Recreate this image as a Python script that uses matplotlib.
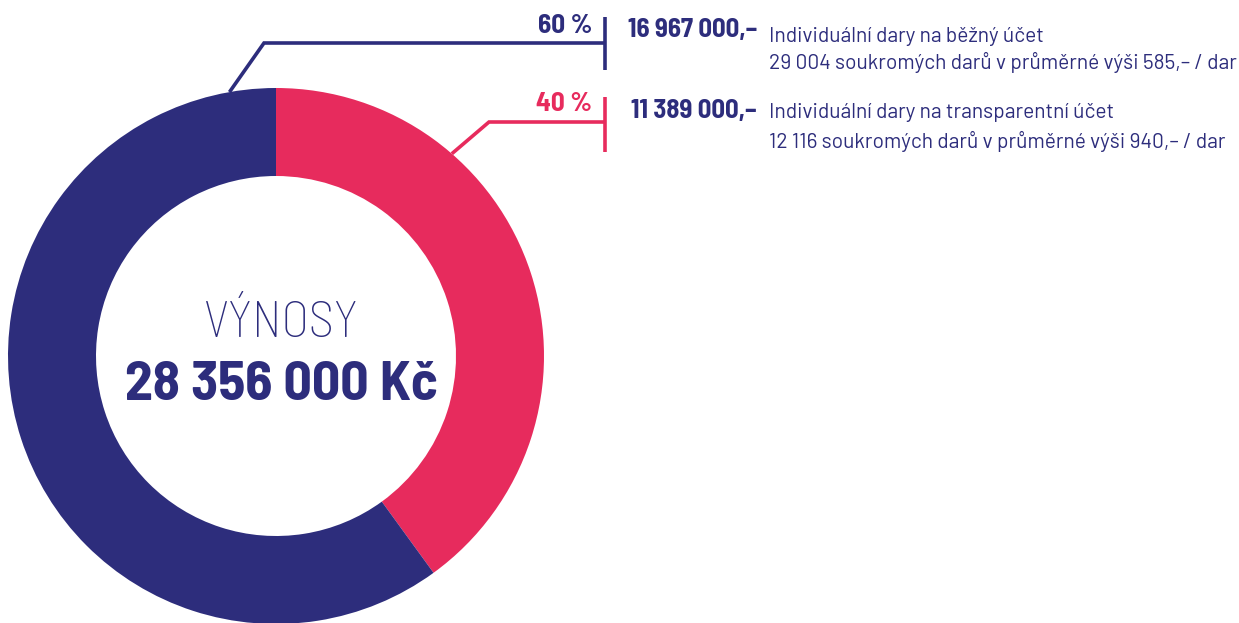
import numpy as np
import matplotlib
matplotlib.use("Agg")
import matplotlib.pyplot as plt
from matplotlib import font_manager

# data
labels = ["Individuální dary na transparentní účet", "Individuální dary na běžný účet"]
shares = [40, 60]
share_labels = ["40 %", "60 %"]
amounts = ["11 389 000,–", "16 967 000,–"]
details = ["12 116 soukromých darů v průměrné výši 940,– / dar",
           "29 004 soukromých darů v průměrné výši 585,– / dar"]
title = "VÝNOSY"
total = "28 356 000 Kč"

navy = "#2d2d7c"
pink = "#e72b5d"
colors = [pink, navy]

names = {f.name for f in font_manager.fontManager.ttflist}
font = "Barlow Semi Condensed" if "Barlow Semi Condensed" in names else "DejaVu Sans"
font2 = "Barlow" if "Barlow" in names else font
plt.rcParams["font.family"] = [font, "DejaVu Sans"]

W, H = 1239, 623
fig = plt.figure(figsize=(W / 100, H / 100), dpi=100)
ax = fig.add_axes([0, 0, 1, 1])

def Y(y):
    return H - y

cx, cy, r_out, ring = 276, Y(356), 268, 88
ax.pie(shares, colors=colors, startangle=90, counterclock=False,
       radius=r_out, center=(cx, cy), frame=True,
       wedgeprops=dict(width=ring, linewidth=0))
ax.set_xlim(0, W)
ax.set_ylim(0, H)
ax.set_aspect("equal")
ax.axis("off")

ax.text(cx + 5, Y(324), title, ha="center", va="center", fontsize=36.8,
        color=navy, fontweight="light")
ax.text(cx + 5, Y(386), total, ha="center", va="center", fontsize=40,
        color=navy, fontweight="bold")

# leader lines: (angle from top clockwise, elbow x, elbow y, tick y range)
leaders = [(41, 489, 122, 97, 152), (-10, 264, 43, 17, 70)]
label_y = [(104, 111, 113, 141), (26, 30, 37, 62)]
bar_x = 605
for i in range(len(shares)):
    ang, ex, ey, t0, t1 = leaders[i]
    a = np.radians(ang)
    sx = cx + r_out * np.sin(a)
    sy = cy + r_out * np.cos(a)
    c = colors[i]
    ax.plot([sx, ex, bar_x], [sy, Y(ey), Y(ey)], color=c, lw=2.6,
            solid_capstyle="butt", solid_joinstyle="miter")
    ax.plot([bar_x, bar_x], [Y(t0), Y(t1)], color=c, lw=2.6,
            solid_capstyle="butt")
    py, ay, l1, l2 = label_y[i]
    ax.text(592, Y(py), share_labels[i], ha="right", va="center",
            fontsize=19.6, fontweight="bold", color=c)
    ax.text(757, Y(ay), amounts[i], ha="right", va="center",
            fontsize=19.3, fontweight="bold", color=navy)
    ax.text(769, Y(l1), labels[i], ha="left", va="center",
            fontsize=15.1, color=navy, family=[font2, "DejaVu Sans"])
    ax.text(769, Y(l2), details[i], ha="left", va="center",
            fontsize=15.1, color=navy, family=[font2, "DejaVu Sans"])

fig.savefig("out.png", dpi=100, facecolor="white")
